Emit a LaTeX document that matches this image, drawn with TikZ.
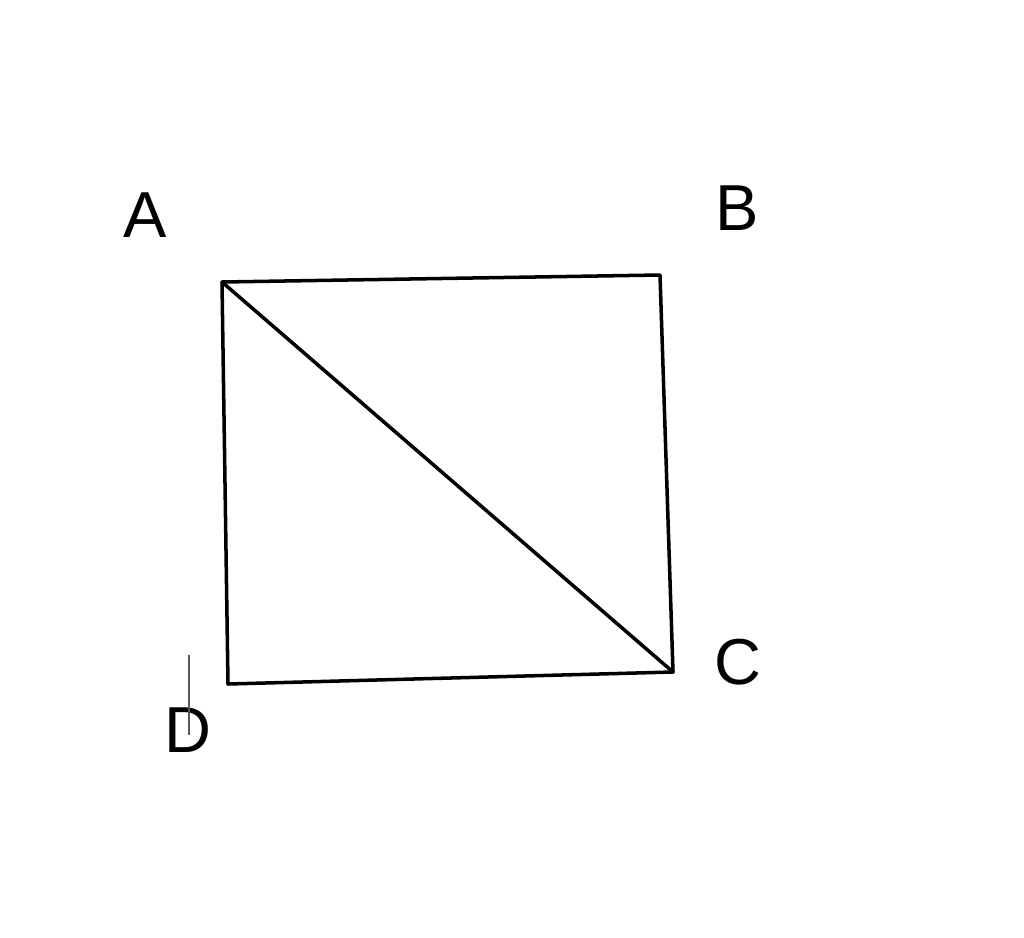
\documentclass[tikz,border=0pt]{standalone}
\usepackage{fontspec}
\setmainfont{Liberation Sans}
\usetikzlibrary{positioning}
\tikzset{
side/.style={line width=2pt,line cap=round,line join=round},
corner label/.style={font=\fontsize{37}{40}\selectfont,inner sep=0pt},
caret/.style={gray!70!black,line width=0.8pt}
}

\begin{document}
\begin{tikzpicture}[x=0.02cm, y=-0.02cm]
\useasboundingbox (0,0) rectangle (1024,937);

\coordinate (a) at (222,282);
\coordinate (b) at (660,275);
\coordinate (c) at (673,672);
\coordinate (d) at (228,684);

\node[corner label] (la) at (145,215) {A};
\node[corner label] (lb) at (737,208) {B};
\node[corner label] (lc) at (738,662) {C};
\node[corner label] (ld) at (188,730) {D};

\draw[side] (a) -- (b) -- (c) -- (d) -- cycle;
\draw[side] (a) -- (c);

\coordinate (cur top) at (189,655);
\coordinate (cur bottom) at (189,735);
\draw[caret] (cur top) -- (cur bottom);

\end{tikzpicture}
\end{document}
